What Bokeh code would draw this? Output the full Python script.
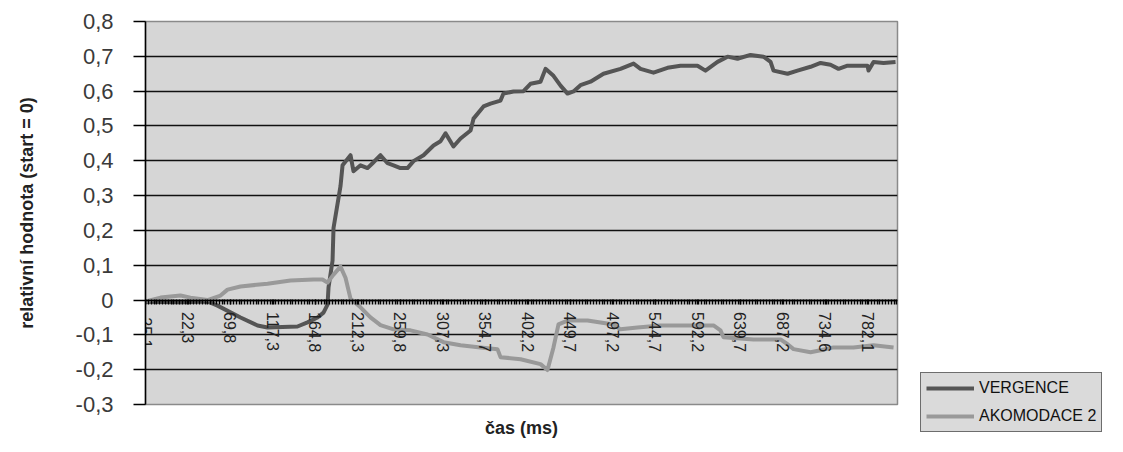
import numpy as np
from bokeh.plotting import figure
from bokeh.models import (LinearAxis, FixedTicker, CustomJSTickFormatter, Legend,
                          LegendItem, Range1d, Grid)
from bokeh.embed import file_html
from bokeh.resources import INLINE

# ---- data ----
x_tick_values = [-25.1, 22.3, 69.8, 117.3, 164.8, 212.3, 259.8, 307.3, 354.7,
                 402.2, 449.7, 497.2, 544.7, 592.2, 639.7, 687.2, 734.6, 782.1]
y_tick_values = [-0.3, -0.2, -0.1, 0.0, 0.1, 0.2, 0.3, 0.4, 0.5, 0.6, 0.7, 0.8]

verg_t = [-25.1, 14.0, 44.2, 55.4, 81.1, 100.1, 111.3, 144.8, 156.0, 167.2,
          173.9, 178.4, 179.5, 184.0, 185.1, 192.9, 195.2, 204.1, 207.4, 215.3,
          223.1, 228.7, 237.6, 245.5, 252.2, 259.9, 267.8, 274.5, 285.7, 296.9,
          304.7, 310.3, 319.2, 327.1, 338.3, 341.6, 352.8, 360.6, 371.8, 375.1,
          386.3, 397.5, 405.3, 416.5, 422.1, 431.0, 438.9, 446.7, 453.4, 461.2,
          472.4, 486.9, 505.9, 520.5, 528.3, 542.8, 558.5, 573.0, 592.0, 600.9,
          614.4, 625.6, 636.7, 651.3, 665.8, 673.7, 677.0, 692.7, 703.8, 718.4,
          729.6, 740.7, 749.7, 759.7, 782.1, 783.2, 788.8, 800.0, 813.4]
verg_v = [-0.005, -0.006, -0.004, -0.016, -0.050, -0.073, -0.079, -0.076, -0.064, -0.050,
          -0.036, -0.013, 0.036, 0.113, 0.207, 0.327, 0.387, 0.416, 0.370, 0.387,
          0.379, 0.393, 0.416, 0.393, 0.387, 0.379, 0.379, 0.399, 0.416, 0.444,
          0.456, 0.479, 0.441, 0.464, 0.487, 0.521, 0.556, 0.564, 0.573, 0.593,
          0.599, 0.600, 0.621, 0.627, 0.664, 0.644, 0.616, 0.593, 0.599, 0.617,
          0.627, 0.650, 0.664, 0.679, 0.664, 0.653, 0.667, 0.673, 0.673, 0.659,
          0.684, 0.699, 0.693, 0.704, 0.699, 0.684, 0.659, 0.650, 0.659, 0.670,
          0.681, 0.676, 0.664, 0.673, 0.673, 0.659, 0.684, 0.681, 0.684]

akom_t = [-25.1, -8.3, 14.0, 25.2, 44.2, 58.8, 66.6, 81.1, 111.3, 137.0,
          162.7, 172.8, 178.4, 185.1, 192.9, 198.5, 204.1, 215.3, 226.4, 237.6,
          252.2, 271.2, 290.2, 308.1, 327.1, 349.4, 368.4, 371.8, 394.2, 416.5,
          424.3, 431.0, 436.6, 446.7, 469.1, 498.1, 505.9, 524.9, 550.7, 580.8,
          609.9, 617.7, 621.1, 654.6, 684.8, 692.7, 699.4, 718.4, 729.6, 744.1,
          766.4, 788.8, 811.2]
akom_v = [-0.004, 0.007, 0.013, 0.007, 0.000, 0.013, 0.030, 0.039, 0.047, 0.056,
          0.059, 0.059, 0.050, 0.073, 0.096, 0.064, 0.004, -0.021, -0.050, -0.072,
          -0.084, -0.087, -0.099, -0.121, -0.130, -0.136, -0.141, -0.164, -0.170, -0.184,
          -0.201, -0.136, -0.070, -0.059, -0.059, -0.070, -0.084, -0.079, -0.073, -0.073,
          -0.073, -0.087, -0.107, -0.113, -0.113, -0.127, -0.141, -0.150, -0.144, -0.136,
          -0.136, -0.130, -0.136]

series_names = ["VERGENCE", "AKOMODACE 2"]

FONT = "Liberation Sans"

p = figure(frame_width=752, frame_height=383,
           x_range=Range1d(-25.1, 815.6), y_range=Range1d(-0.3, 0.8),
           output_backend="svg", toolbar_location=None,
           x_axis_type=None, y_axis_type=None,
           min_border_left=145, min_border_right=210,
           min_border_top=21, min_border_bottom=32,
           background_fill_color="#d6d6d6", border_fill_color="white",
           outline_line_color="#8a8a8a", outline_line_width=1.5)

# y axis
y_axis = LinearAxis(
    ticker=FixedTicker(ticks=y_tick_values),
    formatter=CustomJSTickFormatter(code="if (Math.abs(tick) < 1e-9) { return '0'; } return tick.toFixed(1).replace('.', ',');"),
    axis_label="relativní hodnota (start = 0)",
    axis_label_text_font=FONT, axis_label_text_font_style="bold",
    axis_label_text_font_size="18px", axis_label_text_color="#222222",
    axis_label_standoff=36,
    major_label_text_font=FONT, major_label_text_font_size="22px",
    major_label_text_color="#3a3a3a", major_label_standoff=20,
    axis_line_color="black", axis_line_width=1.5,
    major_tick_line_color="black", major_tick_line_width=1.5,
    major_tick_out=12, major_tick_in=0,
    minor_tick_out=0, minor_tick_in=0)
p.add_layout(y_axis, "left")

grid = Grid(dimension=1, ticker=y_axis.ticker, grid_line_color="#111111",
            grid_line_width=1.5)
p.add_layout(grid)

# x axis title only (bottom)
x_title_axis = LinearAxis(
    ticker=FixedTicker(ticks=[]),
    axis_label="čas (ms)",
    axis_label_text_font=FONT, axis_label_text_font_style="bold",
    axis_label_text_font_size="18px", axis_label_text_color="#222222",
    axis_label_standoff=13,
    axis_line_color=None, major_tick_out=0, major_tick_in=0,
    minor_tick_out=0, minor_tick_in=0)
p.add_layout(x_title_axis, "below")

# x axis with ticks crossing the plot at y = 0
minor = [float(v) for v in np.arange(-25.1, 815.0, 3.17)]
x_axis = LinearAxis(
    fixed_location=0,
    ticker=FixedTicker(ticks=x_tick_values, minor_ticks=minor),
    formatter=CustomJSTickFormatter(code="return tick.toFixed(1).replace('.', ',');"),
    major_label_orientation="vertical",
    major_label_text_font=FONT, major_label_text_font_size="16px",
    major_label_text_color="#222222", major_label_standoff=8,
    axis_line_color="black", axis_line_width=1.5,
    major_tick_line_color="black", major_tick_line_width=1.5,
    major_tick_out=4, major_tick_in=1,
    minor_tick_line_color="black", minor_tick_line_width=1.5,
    minor_tick_out=4, minor_tick_in=1)
p.add_layout(x_axis, "below")

r1 = p.line(verg_t, verg_v, line_color="#555555", line_width=4, line_join="round")
r2 = p.line(akom_t, akom_v, line_color="#999999", line_width=4, line_join="round")

legend = Legend(
    items=[LegendItem(label=series_names[0], renderers=[r1]),
           LegendItem(label=series_names[1], renderers=[r2])],
    location=(23, -28), orientation="vertical",
    background_fill_color="#dadada", background_fill_alpha=1.0,
    border_line_color="black", border_line_width=1.5,
    label_text_font=FONT, label_text_font_size="16px", label_text_color="#111111",
    glyph_width=48, glyph_height=20, label_height=20,
    spacing=8, padding=5, label_standoff=5, margin=0)
p.add_layout(legend, "right")

open("out.html", "w").write(file_html(p, INLINE))
